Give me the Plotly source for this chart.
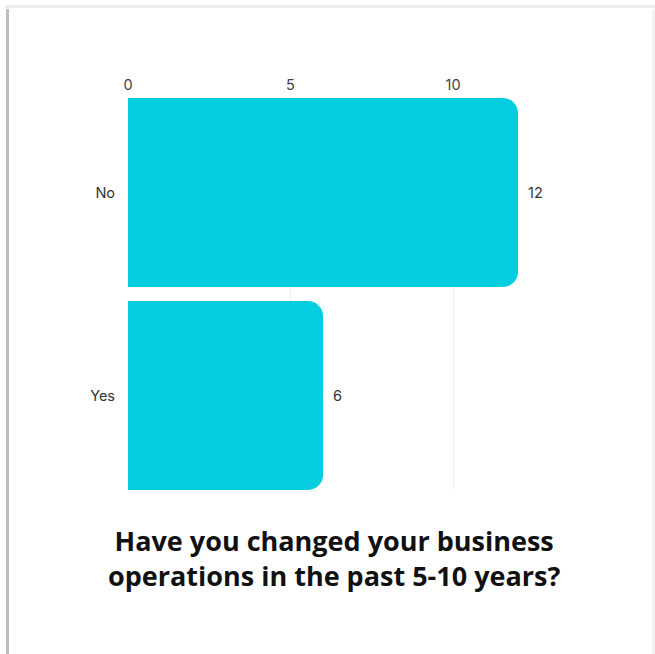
import plotly.graph_objects as go

# Survey responses
answers = ["No", "Yes"]
counts = [12, 6]
tick_values = [0, 5, 10]
question = "Have you changed your business<br>operations in the past 5-10 years?"

W, H = 655, 654
bar_frac = 0.931  # fraction of each category band filled by its bar
label_font = dict(family="Inter, Roboto, sans-serif", size=14.5, color="#333333")

fig = go.Figure(
    go.Bar(
        x=counts,
        y=answers,
        orientation="h",
        marker=dict(color="#05CDE0", line=dict(width=0)),
        width=bar_frac,
        hoverinfo="skip",
    )
)

# Value labels just past the end of each bar
for a, c in zip(answers, counts):
    fig.add_annotation(x=c, y=a, text=str(c), showarrow=False,
                       xanchor="left", yanchor="middle", xshift=8,
                       font=label_font)

fig.update_layout(
    width=W,
    height=H,
    margin=dict(l=128, r=137, t=98, b=164),
    paper_bgcolor="white",
    plot_bgcolor="white",
    barcornerradius=15,
    showlegend=False,
    xaxis=dict(
        side="top",
        range=[0, 12],
        tickvals=tick_values,
        ticktext=[str(v) for v in tick_values],
        showgrid=True,
        gridcolor="#EFEFEF",
        gridwidth=1,
        zeroline=False,
        showline=False,
        ticks="",
        ticklabelstandoff=4,
        tickfont=dict(family="Inter, Roboto, sans-serif", size=14.5, color="#444444"),
    ),
    yaxis=dict(
        type="category",
        categoryarray=answers,
        range=[1 + bar_frac / 2, -bar_frac / 2],
        showgrid=False,
        zeroline=False,
        showline=False,
        ticks="",
        ticklabelstandoff=12,
        tickfont=label_font,
    ),
)

px = lambda v: (v - 128) / (W - 128 - 137)
py = lambda v: 1 - (v - 98) / (H - 98 - 164)

fig.add_annotation(
    text="<b>" + question + "</b>",
    xref="paper", yref="paper",
    x=px(334), y=py(520),
    xanchor="center", yanchor="top",
    showarrow=False,
    align="center",
    font=dict(family="Open Sans, sans-serif", size=27, color="#111111"),
)

# Card outline with a soft shadow along its top and left edges
fig.add_shape(type="rect", xref="paper", yref="paper",
              x0=px(5), x1=px(660), y0=py(5), y1=py(8),
              fillcolor="#EDEDED", line=dict(width=0), layer="below")
fig.add_shape(type="rect", xref="paper", yref="paper",
              x0=px(6), x1=px(9), y0=py(9), y1=py(660),
              fillcolor="#BDBDBD", line=dict(width=0), layer="below")
fig.add_shape(type="rect", xref="paper", yref="paper",
              x0=px(652), x1=px(655), y0=py(9), y1=py(660),
              fillcolor="#F3F3F3", line=dict(width=0), layer="below")

fig.write_html("out.html")
